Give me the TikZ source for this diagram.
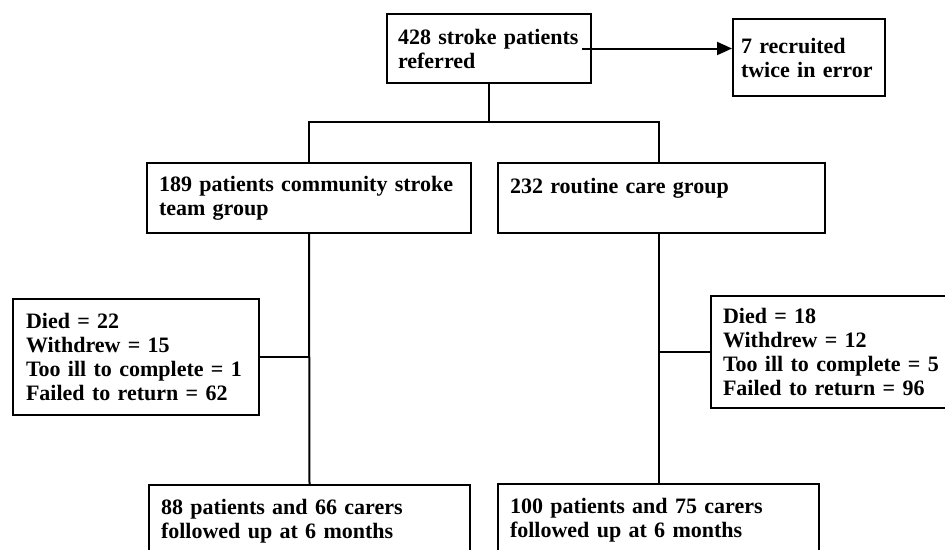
\documentclass[tikz,border=0pt]{standalone}
\usepackage{fontspec}
\setmainfont{Liberation Serif}
\usepackage{tikz}
\usetikzlibrary{calc}
\usetikzlibrary{arrows.meta,positioning}

\begin{document}
\begin{tikzpicture}[x=1pt,y=-1pt,line width=2pt,
    box/.style={draw, anchor=north west, align=left, inner ysep=0pt,
      font=\bfseries\fontsize{22}{24}\selectfont}]
    \useasboundingbox (0,0) rectangle (945,549);
    \clip (0,0) rectangle (945,549);
    % top row
    \node(R)[box, text width=182pt, inner xsep=11pt, minimum height=69pt] at (386,13) {428 stroke patients\\referred};
    \node(E)[box, text width=136pt, inner xsep=8pt, minimum height=77pt] at (732,18) {7 recruited\\twice in error};
    \draw[-{Triangle[length=15pt,width=13pt]}] ([xshift=-10pt]R.east) -- (R.east -| E.west);
    % the two arms
    \node(C)[box, text width=300pt, inner xsep=12pt, minimum height=70pt] at (146,162) {189 patients community stroke\\team group};
    \node(U)[box, text width=303pt, inner xsep=12pt, minimum height=70pt] at (497,162) {232 routine care group\\~};
    \draw (R.south) -- ++(0,38) coordinate (split);
    % losses
    \node(L1)[box, text width=220pt, inner xsep=13pt, minimum height=116pt] at (12,298) {Died = 22\\Withdrew = 15\\Too ill to complete = 1\\Failed to return = 62};
    \node(L2)[box, text width=222pt, inner xsep=12pt, minimum height=112pt] at (710,295) {Died = 18\\Withdrew = 12\\Too ill to complete = 5\\Failed to return = 96};
    % follow up
    \node(F1)[box, text width=297pt, inner xsep=12pt, minimum height=72pt] at (148,484) {88 patients and 66 carers\\followed up at 6 months};
    \node(F2)[box, text width=297pt, inner xsep=12pt, minimum height=72pt] at (497,483) {100 patients and 75 carers\\followed up at 6 months};

    \draw (C.north) |- (split) -| (U.north -| F2.north);
    \draw (C.south) -- (F1.north);
    \draw (U.south -| F2.north) -- (F2.north);
    \draw (L1.east) -- (L1.east -| C.south);
    \draw (L2.west) -- (L2.west -| F2.north);
\end{tikzpicture}
\end{document}
